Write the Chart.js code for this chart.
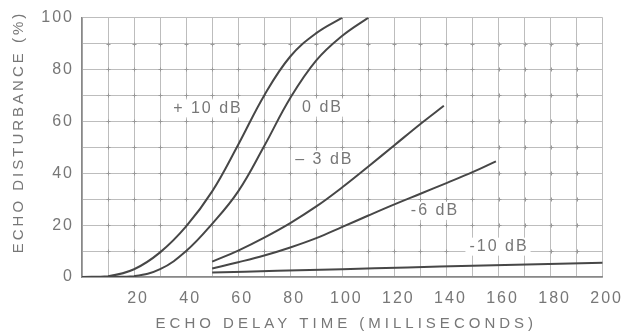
<!DOCTYPE html>
<html>
<head>
<meta charset="utf-8">
<script src="https://cdn.jsdelivr.net/npm/chart.js@4"></script>
<style>
  html, body { margin: 0; padding: 0; background: #fff; }
  #wrap { width: 628px; height: 334px; }
</style>
</head>
<body>
<div id="wrap"><canvas id="myChart" width="628" height="334"></canvas></div>
<script>
// curves (delay in ms, disturbance in %)
const plus10X = [0, 10, 20, 30, 40, 50, 60, 70, 80, 90, 100];
const plus10Y = [0, 0.3, 3, 9.5, 19.5, 33, 51, 70, 85, 94, 100];

const zeroX = [10, 20, 30, 40, 50, 60, 70, 80, 90, 100, 110];
const zeroY = [0, 0.3, 3, 10, 20.5, 33, 50.5, 69, 83.5, 93, 100];

const minus3X = [50, 60, 70, 80, 90, 100, 110, 120, 130, 139];
const minus3Y = [5.9, 10.2, 15.2, 20.8, 27.2, 34.6, 42.6, 50.8, 59, 66];

const minus6X = [50, 60, 70, 80, 90, 100, 110, 120, 130, 140, 150, 159];
const minus6Y = [3.3, 5.7, 8.3, 11.4, 15.0, 19.3, 23.7, 28.0, 32.1, 36.2, 40.4, 44.6];

const minus10X = [50, 75, 100, 125, 150, 175, 200];
const minus10Y = [1.7, 2.4, 3.0, 3.7, 4.3, 4.9, 5.5];

// curve names and where they are written on the plot (data coords)
const curveNames = ['+ 10 dB', '0 dB', '\u2013 3 dB', '-6 dB', '-10 dB'];
const nameX = [48, 92, 92.7, 135.2, 159.8];
const nameY = [65, 65.3, 45.2, 25.5, 11.7];

const xTitle = 'ECHO DELAY TIME (MILLISECONDS)';
const yTitle = 'ECHO DISTURBANCE (%)';

const ink = '#474747';
const textGrey = '#777';
const fontFam = '"Liberation Sans", Arial, sans-serif';

function pts(xs, ys) {
    return xs.map((x, i) => ({ x: x, y: ys[i] }));
}

function curve(label, xs, ys) {
    return {
        label,
        data: pts(xs, ys),
        showLine: true,
        borderColor: ink,
        borderWidth: 2,
        pointRadius: 0,
        tension: 0.4,
        fill: false
    };
}

// spaced lettering like the old figure
const spacing = {
    id: 'spacing',
    beforeDraw(chart) { chart.ctx.letterSpacing = '2px'; },
    afterDraw(chart) { chart.ctx.letterSpacing = '0px'; }
};

// little crosses at the grid intersections
const crosses = {
    id: 'crosses',
    beforeDatasetsDraw(chart) {
        const { ctx, scales: { x, y } } = chart;
        ctx.save();
        ctx.strokeStyle = '#999';
        ctx.lineWidth = 1;
        for (let xv = 10; xv < 200; xv += 10) {
            for (let yv = 10; yv < 100; yv += 10) {
                const px = Math.round(x.getPixelForValue(xv)) + 0.5;
                const py = Math.round(y.getPixelForValue(yv)) + 0.5;
                ctx.beginPath();
                ctx.moveTo(px - 2, py); ctx.lineTo(px + 2, py);
                ctx.moveTo(px, py - 2); ctx.lineTo(px, py + 2);
                ctx.stroke();
            }
        }
        ctx.restore();
    }
};

// curve names on white patches
const names = {
    id: 'names',
    afterDatasetsDraw(chart) {
        const { ctx, scales: { x, y } } = chart;
        ctx.save();
        ctx.font = '16px ' + fontFam;
        ctx.letterSpacing = '2px';
        ctx.textAlign = 'center';
        ctx.textBaseline = 'middle';
        curveNames.forEach((t, i) => {
            const px = x.getPixelForValue(nameX[i]);
            const py = y.getPixelForValue(nameY[i]);
            const w = ctx.measureText(t).width;
            ctx.fillStyle = '#fff';
            ctx.fillRect(px - w / 2 - 3, py - 9, w + 6, 18);
            ctx.fillStyle = textGrey;
            ctx.fillText(t, px + 1, py);
        });
        ctx.restore();
    }
};

// axis titles
const titles = {
    id: 'titles',
    afterDraw(chart) {
        const { ctx, chartArea } = chart;
        ctx.save();
        ctx.font = '15px ' + fontFam;
        ctx.fillStyle = textGrey;
        ctx.textAlign = 'center';
        ctx.textBaseline = 'middle';
        ctx.letterSpacing = '4px';
        ctx.fillText(xTitle, (chartArea.left + chartArea.right) / 2 + 4, 324);
        ctx.letterSpacing = '3px';
        ctx.translate(19, 132);
        ctx.rotate(-Math.PI / 2);
        ctx.fillText(yTitle, 0, 0);
        ctx.restore();
    }
};

const ch = document.getElementById('myChart').getContext('2d');

const config = {
    type: 'scatter',
    data: {
        datasets: [
            curve('+10 dB', plus10X, plus10Y),
            curve('0 dB', zeroX, zeroY),
            curve('-3 dB', minus3X, minus3Y),
            curve('-6 dB', minus6X, minus6Y),
            curve('-10 dB', minus10X, minus10Y)
        ]
    },
    options: {
        responsive: false,
        animation: false,
        layout: { padding: { left: 0, top: 16, right: 24, bottom: 0 } },
        plugins: {
            legend: { display: false },
            tooltip: { enabled: false }
        },
        scales: {
            x: {
                type: 'linear',
                min: 0,
                max: 200,
                afterFit(scale) { scale.height = 57; },
                border: { display: true, color: '#888', width: 1.5 },
                grid: { color: '#bdbdbd', lineWidth: 1, drawTicks: false },
                ticks: {
                    stepSize: 10,
                    autoSkip: false,
                    maxRotation: 0,
                    padding: 12,
                    labelOffset: 4,
                    color: textGrey,
                    font: { family: fontFam, size: 16 },
                    callback: (v) => (v > 0 && v % 20 === 0) ? String(v) : ''
                }
            },
            y: {
                min: 0,
                max: 100,
                afterFit(scale) { scale.width = 82; },
                border: { display: true, color: '#888', width: 1.5 },
                grid: { color: '#bdbdbd', lineWidth: 1, drawTicks: false },
                ticks: {
                    stepSize: 10,
                    autoSkip: false,
                    padding: 8,
                    color: textGrey,
                    font: { family: fontFam, size: 16 },
                    callback: (v) => (v % 20 === 0) ? String(v) : ''
                }
            }
        }
    },
    plugins: [spacing, crosses, names, titles]
};

const myChart = new Chart(ch, config);
</script>
</body>
</html>
